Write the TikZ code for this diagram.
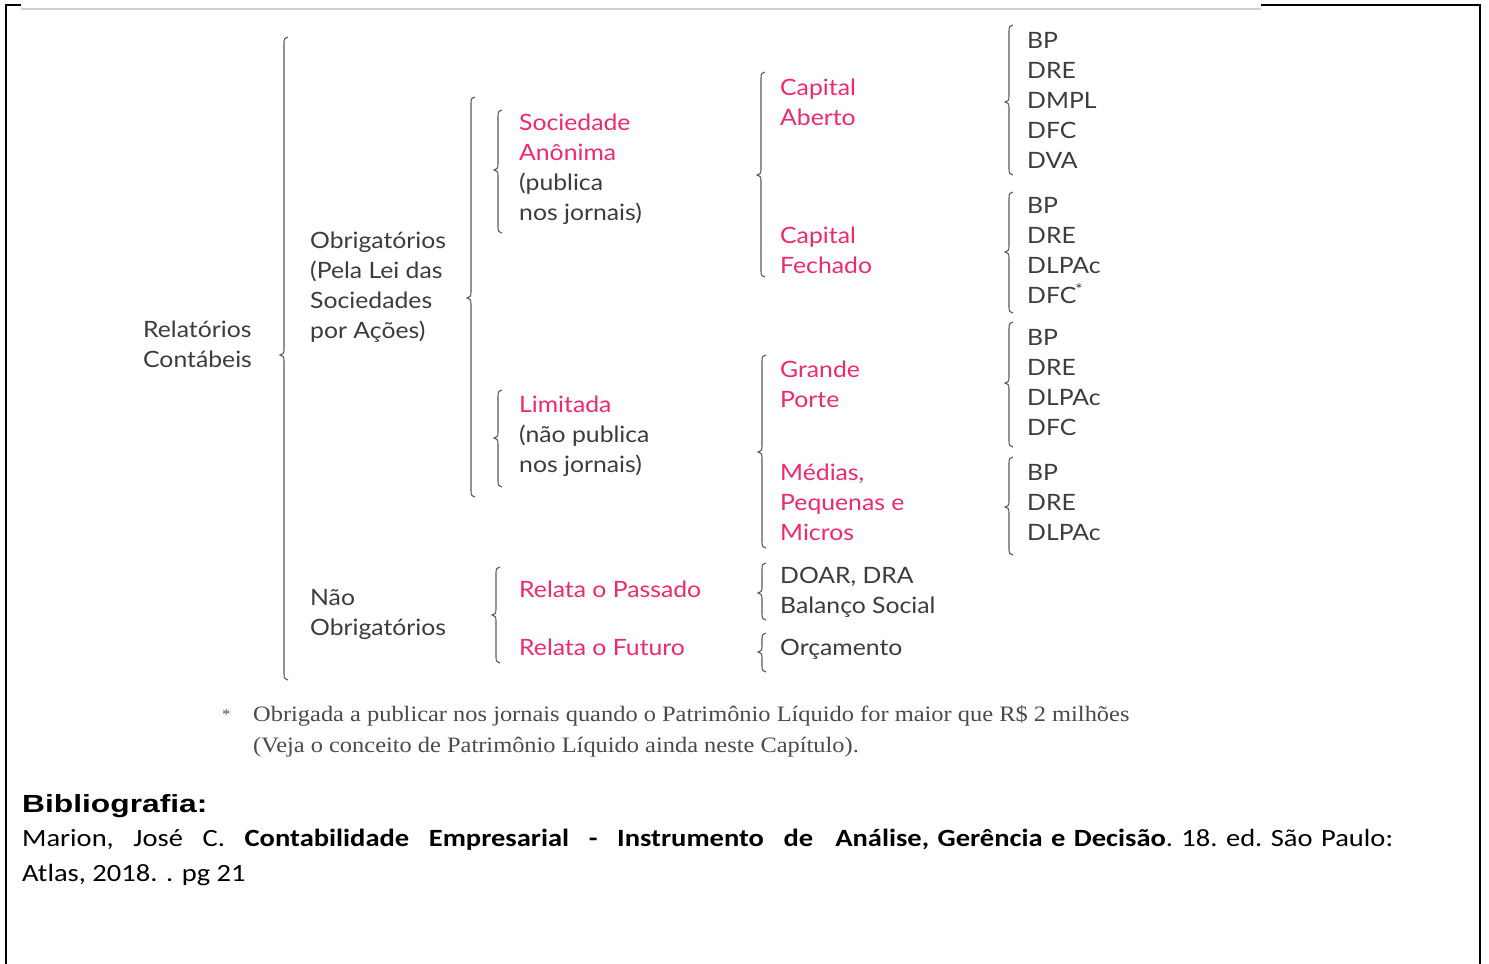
\documentclass[tikz,border=0pt]{standalone}
\usepackage{fontspec}
\setmainfont{Lato}[FakeStretch=1.1]
\newfontfamily\fnserif{Liberation Serif}[FakeStretch=1.11]
\newfontfamily\bibsans{Carlito}[FakeStretch=1.15]
\newfontfamily\headsans{Liberation Sans}[FakeStretch=1.28]
\definecolor{txt}{HTML}{3C3C3C}
\definecolor{pk}{HTML}{EE2A6B}
\definecolor{brcol}{HTML}{5A5A5A}
\definecolor{fncol}{HTML}{4A4A4A}
\newcommand\stk[1]{\vtop{\baselineskip=30pt\halign{##\hfil\cr#1\crcr}}}
% x, top, cusp, bottom
\newcommand\cbr[4]{\draw[brc] (#1+4,#2) .. controls (#1+1,#2) and (#1,#2+2) .. (#1,#2+6) -- (#1,#3-6) .. controls (#1,#3-2) and (#1-1,#3) .. (#1-4,#3) .. controls (#1-1,#3) and (#1,#3+2) .. (#1,#3+6) -- (#1,#4-6) .. controls (#1,#4-2) and (#1+1,#4) .. (#1+4,#4);}
\begin{document}
\begin{tikzpicture}[x=1pt,y=-1pt,
  lbl/.style={anchor=base west, inner sep=0pt, text=txt, font=\fontsize{22.5}{30}\selectfont},
  brc/.style={draw=brcol, line width=1.1pt},
  frame/.style={draw=black, line width=2.5pt}]
\useasboundingbox (0,0) rectangle (1489,964);
\fill[white] (0,0) rectangle (1489,964);
% frame
\draw[frame] (6,964) -- (6,5) -- (21,5);
\draw[frame] (1261,5) -- (1480,5) -- (1480,964);
\draw[draw=black!18, line width=2.5pt] (21,9) -- (1261,9);
% braces
\cbr{284}{37}{355}{680}
\cbr{471}{97}{298}{497}
\cbr{498}{110}{170}{233}
\cbr{498}{390}{438}{487}
\cbr{761}{72}{175}{277}
\cbr{762}{355}{452}{548}
\cbr{496}{567}{615}{663}
\cbr{762}{563}{593}{620}
\cbr{762}{633}{652}{672}
\cbr{1009}{25}{102}{175}
\cbr{1009}{192}{252}{313}
\cbr{1009}{322}{383}{447}
\cbr{1009}{457}{507}{555}
% texts
\node[lbl] (rel) at (143,337) {\stk{Relatórios\cr Contábeis}};
\node[lbl] (obr) at (310,248) {\stk{Obrigatórios\cr (Pela Lei das\cr Sociedades\cr por Ações)}};
\node[lbl] (soc) at (519,130) {\stk{\color{pk}Sociedade\cr \color{pk}Anônima\cr (publica\cr nos jornais)}};
\node[lbl] (lim) at (519,412) {\stk{\color{pk}Limitada\cr (não publica\cr nos jornais)}};
\node[lbl, text=pk] (cab) at (780,95) {\stk{Capital\cr Aberto}};
\node[lbl, text=pk] (cfe) at (780,243) {\stk{Capital\cr Fechado}};
\node[lbl, text=pk] (gra) at (780,377) {\stk{Grande\cr Porte}};
\node[lbl, text=pk] (med) at (780,480) {\stk{Médias,\cr Pequenas e\cr Micros}};
\node[lbl] (ra) at (1027,48) {\stk{BP\cr DRE\cr DMPL\cr DFC\cr DVA}};
\node[lbl] (rb) at (1027,213) {\stk{BP\cr DRE\cr DLPAc\cr DFC\kern-1pt\textsuperscript{*}}};
\node[lbl] (rc) at (1027,345) {\stk{BP\cr DRE\cr DLPAc\cr DFC}};
\node[lbl] (rd) at (1027,480) {\stk{BP\cr DRE\cr DLPAc}};
\node[lbl] (nao) at (310,605) {\stk{Não\cr Obrigatórios}};
\node[lbl, text=pk] (pas) at (519,597) {Relata o Passado};
\node[lbl, text=pk] (fut) at (519,655) {Relata o Futuro};
\node[lbl] (doar) at (780,583) {\stk{DOAR, DRA\cr Balanço Social}};
\node[lbl] (orc) at (780,655) {Orçamento};
% footnote
\node[anchor=base west, inner sep=0pt, text=fncol, font=\fnserif\fontsize{15}{15}\selectfont] (star) at (222,719) {*};
\node[anchor=base west, inner sep=0pt, text=fncol, font=\fnserif\fontsize{22}{32}\selectfont] (fn) at (253,721)
  {\vtop{\baselineskip=31pt\halign{#\hfil\cr Obrigada a publicar nos jornais quando o Patrimônio Líquido for maior que R\$ 2 milhões\cr (Veja o conceito de Patrimônio Líquido ainda neste Capítulo).\crcr}}};
% bibliography
\node[anchor=base west, inner sep=0pt, text=black, font=\headsans\bfseries\fontsize{24.8}{28}\selectfont] (bib) at (22,812) {Bibliografia:};
\node[anchor=base west, inner sep=0pt, text=black, font=\bibsans\fontsize{24.8}{35}\selectfont] (ref1) at (22,846)
  {\frenchspacing\makebox[791pt][s]{Marion, José C. \textbf{Contabilidade Empresarial - Instrumento de}}\hspace{22pt}\makebox[558pt][s]{\textbf{Análise, Gerência e Decisão}. 18. ed. São Paulo:}};
\node[anchor=base west, inner sep=0pt, text=black, font=\bibsans\fontsize{24.8}{35}\selectfont] (ref2) at (22,881) {Atlas, 2018. . pg 21};
\end{tikzpicture}
\end{document}
